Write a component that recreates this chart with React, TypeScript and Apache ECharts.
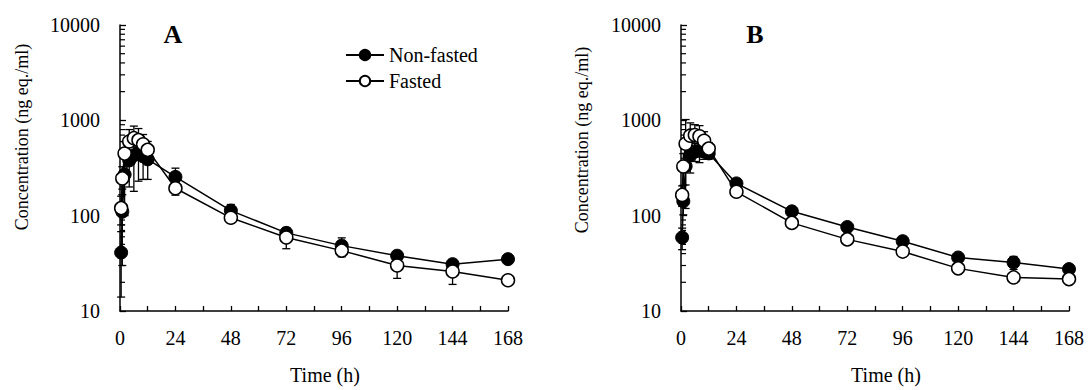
import React, { useEffect, useRef } from "react";
import * as echarts from "echarts";

const timesH = [0.5, 1, 2, 4, 6, 8, 10, 12, 24, 48, 72, 96, 120, 144, 168];

const aNonFastedMean = [41, 110, 270, 380, 430, 460, 420, 390, 255, 113, 66, 48.5, 38, 31, 35];
const aNonFastedSD = [27, 80, 170, 180, 250, 230, 180, 150, 60, 18, 9, 10, 4, 3, 3];
const aFastedMean = [120, 246, 448, 600, 650, 620, 560, 490, 194, 95, 59, 43, 30, 26, 21];
const aFastedSD = [40, 80, 150, 200, 220, 200, 150, 110, 30, 12, 14, 6, 8, 7, 2];

const bNonFastedMean = [59, 142, 330, 430, 470, 480, 470, 450, 218, 111, 76, 54, 36.4, 32.3, 27.5];
const bNonFastedSD = [15, 40, 120, 150, 100, 120, 80, 60, 25, 10, 6, 5, 3, 5, 3];
const bFastedMean = [165, 328, 569, 690, 700, 680, 610, 505, 178, 84, 56.4, 42, 28, 22.5, 21.6];
const bFastedSD = [40, 120, 450, 250, 200, 200, 150, 80, 15, 8, 5, 4, 3, 2, 2];

const yMinorTicks = [20, 30, 40, 50, 60, 70, 80, 90, 200, 300, 400, 500, 600, 700, 800, 900, 2000, 3000, 4000, 5000, 6000, 7000, 8000, 9000];

const FONT = "'Liberation Serif', 'Times New Roman', serif";

const pairs = (ys: number[]) => timesH.map((t, i) => [t, ys[i]]);
const errRows = (m: number[], sd: number[]) => timesH.map((t, i) => [t, Math.max(m[i] - sd[i], 10.5), m[i] + sd[i]]);

function errorSeries(idx: number, m: number[], sd: number[]) {
  return {
    type: "custom",
    xAxisIndex: idx,
    yAxisIndex: idx,
    z: 1,
    silent: true,
    encode: { x: 0, y: [1, 2] },
    data: errRows(m, sd),
    renderItem: (params: any, api: any) => {
      const x = api.value(0);
      const lo = api.coord([x, api.value(1)]);
      const hi = api.coord([x, api.value(2)]);
      const w = 4;
      const st = { stroke: "#000", lineWidth: 1.3 };
      return {
        type: "group",
        children: [
          { type: "line", shape: { x1: lo[0], y1: lo[1], x2: hi[0], y2: hi[1] }, style: st },
          { type: "line", shape: { x1: lo[0] - w, y1: lo[1], x2: lo[0] + w, y2: lo[1] }, style: st },
          { type: "line", shape: { x1: hi[0] - w, y1: hi[1], x2: hi[0] + w, y2: hi[1] }, style: st },
        ],
      };
    },
  };
}

function minorTickSeries(idx: number) {
  return {
    type: "custom",
    xAxisIndex: idx,
    yAxisIndex: idx,
    z: 1,
    silent: true,
    encode: { x: 0, y: 1 },
    data: yMinorTicks.map((v) => [0, v]),
    renderItem: (params: any, api: any) => {
      const p = api.coord([0, api.value(1)]);
      return {
        type: "line",
        shape: { x1: p[0], y1: p[1], x2: p[0] + 5, y2: p[1] },
        style: { stroke: "#000", lineWidth: 1.2 },
      };
    },
  };
}

function lineSeries(idx: number, name: string, m: number[], filled: boolean) {
  return {
    type: "line",
    name,
    xAxisIndex: idx,
    yAxisIndex: idx,
    z: filled ? 3 : 4,
    data: pairs(m),
    symbol: "circle",
    symbolSize: 13,
    lineStyle: { color: "#000", width: 1.5 },
    itemStyle: filled
      ? { color: "#000", borderColor: "#000", borderWidth: 1 }
      : { color: "#fff", borderColor: "#000", borderWidth: 1.5 },
  };
}

const axisText = { color: "#000", fontFamily: FONT, fontSize: 20 };

function xAxis(idx: number) {
  return {
    type: "value",
    gridIndex: idx,
    min: 0,
    max: 168,
    interval: 24,
    name: "Time (h)",
    nameLocation: "middle",
    nameGap: 54,
    nameTextStyle: { ...axisText, fontSize: 20, padding: [0, 0, 0, 22] },
    axisLine: { show: true, lineStyle: { color: "#000", width: 1.5 } },
    axisTick: { show: true, inside: true, length: 5, lineStyle: { color: "#000", width: 1.3 } },
    minorTick: { show: true, splitNumber: 2, length: 5, lineStyle: { color: "#000", width: 1.3 } },
    splitLine: { show: false },
    minorSplitLine: { show: false },
    axisLabel: { ...axisText, margin: 17 },
  };
}

function yAxis(idx: number) {
  return {
    type: "log",
    logBase: 10,
    gridIndex: idx,
    min: 10,
    max: 10000,
    axisLine: { show: true, lineStyle: { color: "#000", width: 1.5 } },
    axisTick: { show: true, inside: true, length: 6, lineStyle: { color: "#000", width: 1.3 } },
    splitLine: { show: false },
    axisLabel: { ...axisText, margin: 20, formatter: (v: number) => String(Math.round(v)) },
  };
}

export default function App() {
  const ref = useRef<HTMLDivElement>(null);
  useEffect(() => {
    if (!ref.current) return;
    const chart = echarts.init(ref.current, null, { renderer: "svg" });
    chart.setOption({
      animation: false,
      backgroundColor: "#fff",
      textStyle: { fontFamily: FONT },
      grid: [
        { left: 120, top: 25, width: 388, height: 289 },
        { left: 681, top: 25, width: 388, height: 289 },
      ],
      xAxis: [xAxis(0), xAxis(1)],
      yAxis: [yAxis(0), yAxis(1)],
      legend: {
        data: ["Non-fasted", "Fasted"],
        orient: "vertical",
        left: 340,
        top: 40,
        itemWidth: 38,
        itemHeight: 13,
        itemGap: 6,
        selectedMode: false,
        textStyle: { color: "#000", fontFamily: FONT, fontSize: 20 },
      },
      graphic: [
        { type: "text", x: 22, y: 137, rotation: Math.PI / 2, style: { text: "Concentration (ng eq./ml)", fill: "#000", fontFamily: FONT, fontSize: 18, align: "center", verticalAlign: "middle" } },
        { type: "text", x: 582, y: 140, rotation: Math.PI / 2, style: { text: "Concentration (ng eq./ml)", fill: "#000", fontFamily: FONT, fontSize: 18, align: "center", verticalAlign: "middle" } },
        { type: "text", x: 173, y: 34, style: { text: "A", fill: "#000", fontFamily: FONT, fontWeight: "bold", fontSize: 26, align: "center", verticalAlign: "middle" } },
        { type: "text", x: 755, y: 34, style: { text: "B", fill: "#000", fontFamily: FONT, fontWeight: "bold", fontSize: 26, align: "center", verticalAlign: "middle" } },
      ],
      series: [
        minorTickSeries(0),
        minorTickSeries(1),
        errorSeries(0, aNonFastedMean, aNonFastedSD),
        errorSeries(0, aFastedMean, aFastedSD),
        errorSeries(1, bNonFastedMean, bNonFastedSD),
        errorSeries(1, bFastedMean, bFastedSD),
        lineSeries(0, "Non-fasted", aNonFastedMean, true),
        lineSeries(0, "Fasted", aFastedMean, false),
        lineSeries(1, "Non-fasted", bNonFastedMean, true),
        lineSeries(1, "Fasted", bFastedMean, false),
      ],
    });
    return () => chart.dispose();
  }, []);
  return <div ref={ref} style={{ position: "fixed", left: 0, top: 0, width: 1088, height: 390 }} />;
}
